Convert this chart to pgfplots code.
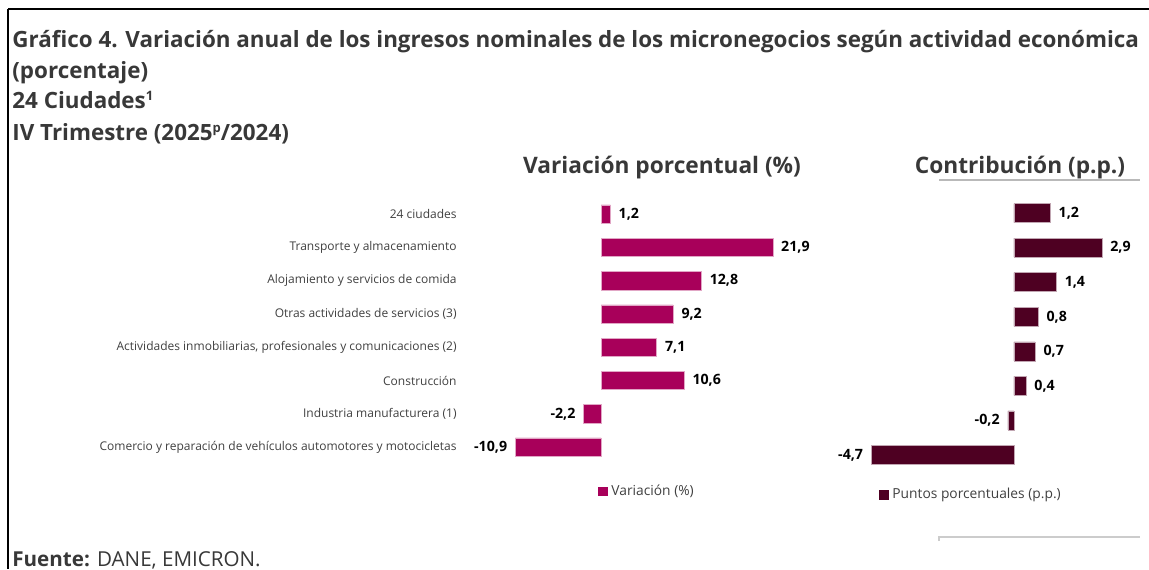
\documentclass[border=0pt]{standalone}
\usepackage{fontspec}
\setmainfont{Open Sans}
\usepackage{pgfplots}
\usepackage{pgfplotstable}
\pgfplotsset{compat=1.18}
\definecolor{varc}{HTML}{A8005A}
\definecolor{conc}{HTML}{4E0022}
\definecolor{tit}{HTML}{383838}
\definecolor{lab}{HTML}{404040}

% row 0 = 24 ciudades (top)
\pgfplotstableread{
row val
0 1.2
1 21.9
2 12.8
3 9.2
4 7.1
5 10.6
6 -2.2
7 -10.9
}\vartable
\pgfplotstableread{
row val
0 1.2
1 2.9
2 1.4
3 0.8
4 0.7
5 0.4
6 -0.2
7 -4.7
}\contable

\pgfplotsset{
  barbase/.style={
    scale only axis, clip=false,
    ymin=-0.5, ymax=7.5, y dir=reverse,
    xbar, bar shift=0pt,
    axis line style={draw=none}, xtick=\empty, major tick length=0pt,
    nodes near coords={\pgfmathprintnumber[use comma,fixed,fixed zerofill,precision=1,assume math mode=true]{\pgfplotspointmeta}},
    point meta=x,
    every node near coord/.append style={font=\bfseries\fontsize{7.1}{8}\selectfont, text=black, inner sep=4pt},
    legend style={draw=none, fill=none, font=\fontsize{6.9}{8}\selectfont, text=lab,
                  inner sep=0pt, cells={anchor=west}},
  },
}

\begin{document}
\begin{tikzpicture}[x=0.5pt, y=-0.5pt]
\path[use as bounding box] (0,0) rectangle (1149,569);
% frame
\draw[black, line width=1pt] (8,9) -- (1149,9);
\draw[black, line width=1pt] (8,9) -- (8,569);

% titles
\begin{scope}[every node/.style={anchor=base west, inner sep=0pt, text=tit, font=\bfseries\fontsize{11.2}{13}\selectfont}]
\node at (12,47) {Gráfico 4. Variación anual de los ingresos nominales de los micronegocios según actividad económica};
\node at (12,78) {(porcentaje)};
\node at (12,108) {24 Ciudades{\fontsize{6.5}{7}\selectfont\raisebox{0.55em}{1}}};
\node at (12,140) {IV Trimestre (2025{\fontsize{6.5}{7}\selectfont\raisebox{0.55em}{p}}/2024)};
\end{scope}
\node[anchor=base, inner sep=0pt, text=tit, font=\bfseries\fontsize{11.35}{13}\selectfont] at (662,173) {Variación porcentual (\%)};
\node[anchor=base, inner sep=0pt, text=tit, font=\bfseries\fontsize{11.35}{13}\selectfont] at (1020,173) {Contribución (p.p.)};
\draw[gray!55, line width=0.6pt] (939,180) -- (1140,180);
\draw[gray!40, line width=0.6pt] (939,541) -- (939,537) -- (1140,537);

% source
\node[anchor=base west, inner sep=0pt, text=tit, font=\fontsize{10.3}{12}\selectfont] at (12,566) {\textbf{Fuente:} DANE, EMICRON.};

% variation
\begin{axis}[barbase,
  at={(253.4pt,-98.7pt)}, anchor=north west,
  width=141.3pt, height=133.2pt,
  xmin=-12, xmax=24, bar width=0.55,
  ytick={0,...,7},
  yticklabels={24 ciudades, Transporte y almacenamiento, Alojamiento y servicios de comida,
    Otras actividades de servicios (3), {Actividades inmobiliarias, profesionales y comunicaciones (2)},
    Construcción, Industria manufacturera (1), Comercio y reparación de vehículos automotores y motocicletas},
  yticklabel style={font=\fontsize{6.0}{7}\selectfont, text=lab, anchor=east, inner sep=0pt, xshift=-24.9pt},
  legend style={at={(0.5,-0.103)}, anchor=center},
  legend image code/.code={\fill[varc] (0pt,-2.1pt) rectangle (4.2pt,2.1pt);},
]
\addplot[fill=varc, draw=varc!35, line width=0.3pt, restrict x to domain=0:100,
  every node near coord/.append style={anchor=west}] table[x=val, y=row] {\vartable};
\addlegendentry{Variación (\%)}
\addplot[fill=varc, draw=varc!35, line width=0.3pt, restrict x to domain=-100:0, forget plot,
  every node near coord/.append style={anchor=east}] table[x=val, y=row] {\vartable};
\end{axis}

% contribution
\begin{axis}[barbase,
  at={(428.1pt,-97.9pt)}, anchor=north west,
  width=133.5pt, height=138.25pt,
  xmin=-5.2, xmax=3.6, bar width=0.55,
  ytick=\empty,
  legend style={at={(0.434,-0.082)}, anchor=center},
  legend image code/.code={\fill[conc] (0pt,-2.1pt) rectangle (4.2pt,2.1pt);},
]
\addplot[fill=conc, draw=conc!35, line width=0.3pt, restrict x to domain=0:100,
  every node near coord/.append style={anchor=west}] table[x=val, y=row] {\contable};
\addlegendentry{Puntos porcentuales (p.p.)}
\addplot[fill=conc, draw=conc!35, line width=0.3pt, restrict x to domain=-100:0, forget plot,
  every node near coord/.append style={anchor=east}] table[x=val, y=row] {\contable};
\end{axis}
\end{tikzpicture}
\end{document}
